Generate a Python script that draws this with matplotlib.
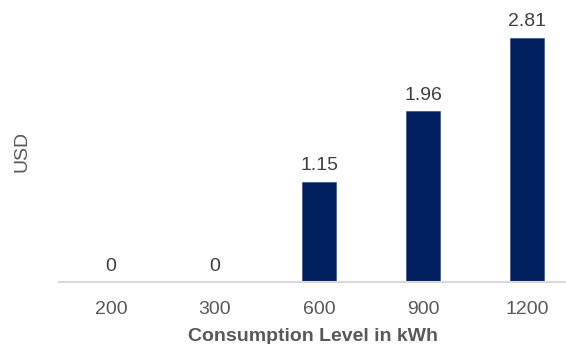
import matplotlib.pyplot as plt

# data
levels = ["200", "300", "600", "900", "1200"]
usd = [0, 0, 1.15, 1.96, 2.81]

plt.rcParams['font.family'] = ['Liberation Sans', 'DejaVu Sans']

fig = plt.figure(figsize=(5.66, 3.44), dpi=100)
ax = fig.add_axes([59 / 566, 62 / 344, 1 - 59 / 566, 261 / 344])

x = range(len(levels))
bars = ax.bar(x, usd, width=0.32, color="#002060", edgecolor="#2c4277", linewidth=0.4)

for xi, v in zip(x, usd):
    ax.annotate(f"{v:g}", (xi, v), xytext=(0, 11.5), textcoords="offset points",
                ha="center", va="center", fontsize=14, color="#404040")

ax.set_xlim(-0.5, 4.375)
ax.set_ylim(0, 3.0)
ax.set_xticks(list(x))
ax.set_xticklabels(levels)
ax.tick_params(axis="x", length=0, pad=13.5, labelsize=14, labelcolor="#595959")
ax.set_yticks([])

for s in ["top", "right", "left"]:
    ax.spines[s].set_visible(False)
ax.spines["bottom"].set_color("#d9d9d9")
ax.spines["bottom"].set_linewidth(1.5)

ax.set_xlabel("Consumption Level in kWh", fontsize=14, fontweight="bold",
              color="#595959", labelpad=7.5)
fig.text(22 / 566, 1 - 151 / 344, "USD", rotation=90, ha="center", va="center",
         fontsize=14, color="#595959")

fig.savefig("out.png", dpi=100)
